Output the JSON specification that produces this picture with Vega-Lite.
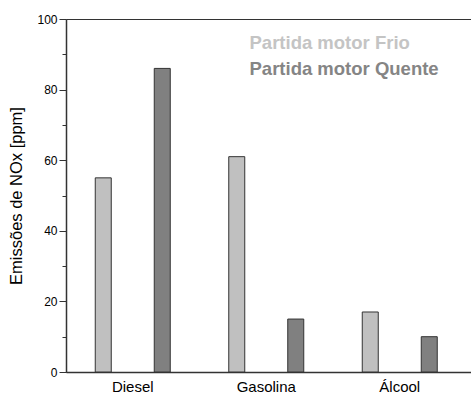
{
  "$schema": "https://vega.github.io/schema/vega-lite/v6.json",
  "autosize": "none",
  "padding": {"left": 66, "top": 19, "right": 0, "bottom": 22},
  "width": 420,
  "height": 353,
  "background": "white",
  "config": {
    "font": "Liberation Sans",
    "view": {"stroke": "#333333", "strokeWidth": 1}
  },
  "data": {
    "values": [
      {"combustivel": "Diesel", "partida": "Partida motor Frio", "nox": 55},
      {"combustivel": "Diesel", "partida": "Partida motor Quente", "nox": 86},
      {"combustivel": "Gasolina", "partida": "Partida motor Frio", "nox": 61},
      {"combustivel": "Gasolina", "partida": "Partida motor Quente", "nox": 15},
      {"combustivel": "Álcool", "partida": "Partida motor Frio", "nox": 17},
      {"combustivel": "Álcool", "partida": "Partida motor Quente", "nox": 10}
    ]
  },
  "mark": {"type": "bar", "stroke": "#333333", "strokeWidth": 1},
  "encoding": {
    "x": {
      "field": "combustivel",
      "type": "nominal",
      "sort": ["Diesel", "Gasolina", "Álcool"],
      "scale": {"paddingInner": 0, "paddingOuter": 0.073, "align": 0},
      "axis": {
        "title": null,
        "labelAngle": 0,
        "labelFontSize": 15,
        "labelColor": "#000000",
        "labelPadding": 7,
        "ticks": false,
        "domainColor": "#333333",
        "domainWidth": 1.5
      }
    },
    "xOffset": {
      "field": "partida",
      "type": "nominal",
      "scale": {"paddingInner": 0.7288, "paddingOuter": 0.4958}
    },
    "y": {
      "field": "nox",
      "type": "quantitative",
      "scale": {"domain": [0, 100], "nice": false},
      "axis": {
        "title": "Emissões de NOx [ppm]",
        "titleFontSize": 16.5,
        "titleFontWeight": "normal",
        "titleColor": "#000000",
        "titlePadding": 12,
        "values": [0, 10, 20, 30, 40, 50, 60, 70, 80, 90, 100],
        "labelExpr": "datum.value % 20 === 0 ? datum.label : ''",
        "labelFontSize": 12,
        "labelColor": "#000000",
        "labelPadding": 2,
        "tickSize": {"condition": {"test": "datum.value % 20 === 0", "value": 7}, "value": 4},
        "tickColor": "#333333",
        "tickWidth": 1,
        "grid": false,
        "domainColor": "#333333",
        "domainWidth": 1.5
      }
    },
    "color": {
      "field": "partida",
      "type": "nominal",
      "scale": {"range": ["#c0c0c0", "#808080"]},
      "legend": {
        "title": null,
        "orient": "none",
        "legendX": 165,
        "legendY": 15,
        "symbolOpacity": 0,
        "symbolSize": 0,
        "symbolStrokeWidth": 0,
        "labelOffset": 0,
        "labelFontSize": 18.5,
        "labelFontWeight": "bold",
        "labelLimit": 300,
        "labelColor": {"expr": "datum.value === 'Partida motor Frio' ? '#c4c4c4' : '#858585'"},
        "rowPadding": 7
      }
    }
  }
}
